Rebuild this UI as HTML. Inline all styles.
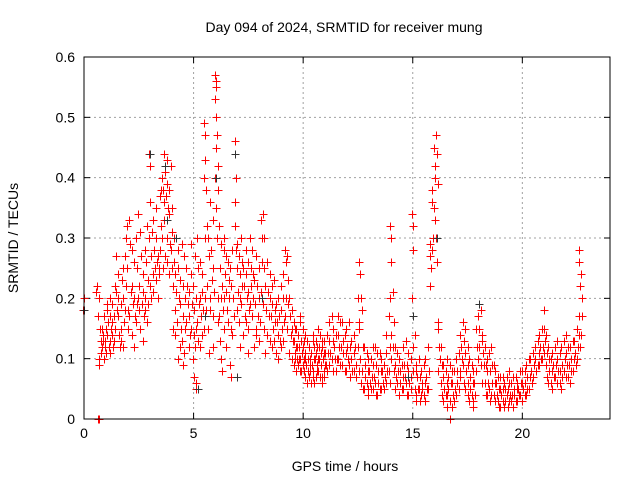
<!DOCTYPE html>
<html><head><meta charset="utf-8"><style>
body{margin:0;background:#fff}
svg{display:block;font-family:"Liberation Sans",sans-serif}
</style></head><body>
<svg id="chart" width="640" height="480" viewBox="0 0 640 480">
<rect width="640" height="480" fill="#fff"/>
<text x="344" y="32" font-size="14" text-anchor="middle">Day 094 of 2024, SRMTID for receiver mung</text>
<text transform="translate(18,238) rotate(-90)" font-size="14" text-anchor="middle">SRMTID / TECUs</text>
<text x="345" y="471" font-size="14" text-anchor="middle">GPS time / hours</text>
<g id="grid"></g>
<g id="ticks"></g>
<g id="marks"></g>
<rect x="84" y="57" width="526" height="362" fill="none" stroke="#000" stroke-width="1"/>
</svg>
<script>
const xTicks=[0,5,10,15,20];
const yTicks=[0,0.1,0.2,0.3,0.4,0.5,0.6];
const yTickLabels=["0","0.1","0.2","0.3","0.4","0.5","0.6"];
const groupHours=[0,0.6,0.7,0.8,0.9,1.0,1.1,1.2,1.3,1.4,1.5,1.6,1.7,1.8,1.9,2.0,2.1,2.2,2.3,2.4,2.5,2.6,2.7,2.8,2.9,3.0,3.1,3.2,3.3,3.4,3.5,3.6,3.7,3.8,3.9,4.0,4.1,4.2,4.3,4.4,4.5,4.6,4.7,4.8,4.9,5.0,5.1,5.2,5.3,5.4,5.5,5.6,5.7,5.8,5.9,6.0,6.1,6.2,6.3,6.4,6.5,6.6,6.7,6.8,6.9,7.0,7.1,7.2,7.3,7.4,7.5,7.6,7.7,7.8,7.9,8.0,8.1,8.2,8.3,8.4,8.5,8.6,8.7,8.8,8.9,9.0,9.1,9.2,9.3,9.4,9.5,9.6,9.7,9.8,9.9,10.0,10.1,10.2,10.3,10.4,10.5,10.6,10.7,10.8,10.9,11.0,11.2,11.4,11.6,11.8,12.0,12.2,12.4,12.6,12.8,13.0,13.2,13.4,13.6,13.8,14.0,14.2,14.4,14.6,14.8,15.0,15.2,15.4,15.6,15.8,15.9,16.0,16.1,16.2,16.4,16.6,16.8,17.0,17.2,17.4,17.6,17.8,18.0,18.2,18.4,18.6,18.8,19.0,19.2,19.4,19.6,19.8,20.0,20.2,20.4,20.6,20.8,21.0,21.2,21.4,21.6,21.8,22.0,22.2,22.4,22.6,22.7];
const groupValues=[
[.18,.2],[.21,.22,.17],[.1,.09,.15,.2],[.13,.15,.12,.11],[.14,.17,.1,.13],[.12,.15,.19,.13,.11],[.14,.16,.12,.18],[.13,.11,.15,.2,.17],[.16,.14,.12,.19],[.17,.22,.15,.13],
[.21,.18,.24,.27],[.2,.14,.12,.17],[.15,.13,.23,.19],[.25,.2,.16,.12],[.27,.3,.22,.18],[.32,.18,.15,.25],[.33,.29,.21,.17],[.28,.22,.19,.14],[.26,.2,.17,.12],[.3,.25,.19,.16],
[.34,.22,.18,.2],[.31,.27,.19,.15],[.24,.21,.17,.13],[.28,.2,.26,.18],[.32,.23,.19,.16],[.44,.42,.36,.3,.22],[.27,.31,.24,.2],[.33,.28,.25,.21],[.35,.3,.26,.23],[.27,.25,.24,.2],
[.37,.38,.32,.28],[.4,.38,.36,.3,.25],[.44,.41,.37,.33,.27],[.43,.39,.35,.3,.26],[.38,.34,.29,.24],[.42,.35,.31,.28,.25],[.22,.26,.18,.15,.3],[.24,.21,.16,.14],[.28,.25,.2,.1],[.23,.19,.15,.12],
[.29,.22,.17,.13,.09],[.27,.2,.15,.11],[.25,.22,.19,.16],[.21,.17,.14,.12],[.29,.24,.19,.15],[.22,.18,.14,.1,.07],[.27,.2,.15,.12,.06,.05],[.3,.25,.19,.16,.13],[.26,.2,.17,.12],[.24,.21,.18,.14],
[.49,.47,.43,.4,.3,.2,.15],[.38,.32,.22,.18],[.3,.27,.2,.15,.11],[.36,.28,.23,.18],[.33,.25,.21,.17,.12],[.57,.56,.55,.53,.5,.45,.4,.35],[.47,.42,.38,.3,.2,.16],[.32,.25,.2,.17,.13],[.29,.22,.18,.1,.08],[.3,.28,.24,.2,.15],
[.27,.21,.18,.12],[.26,.23,.2,.16],[.25,.22,.15,.09,.07],[.28,.2,.17,.14],[.46,.44,.4,.36,.32,.28],[.29,.25,.21,.18],[.27,.24,.2,.16,.12],[.3,.26,.22,.19],[.25,.22,.17,.14],[.28,.24,.2,.16],
[.26,.21,.18,.15,.11],[.3,.25,.22,.19],[.28,.24,.2,.17],[.23,.19,.15,.12],[.27,.22,.17,.14],[.25,.2,.16,.13],[.33,.3,.26,.21],[.34,.3,.25,.19,.15],[.22,.18,.14,.11],[.26,.21,.17,.14],
[.24,.2,.17,.13],[.22,.19,.15,.12],[.23,.18,.16,.13],[.19,.16,.14,.11],[.2,.17,.13,.1],[.22,.18,.15,.12],[.24,.2,.16,.13],[.28,.26,.2,.17],[.27,.23,.19,.15],[.2,.17,.14,.11],
[.18,.15,.13,.1],[.16,.13,.11,.09],[.15,.12,.1,.08],[.14,.12,.1,.09],[.17,.13,.11,.08],[.15,.12,.1,.09],[.14,.11,.09,.07],[.13,.1,.08,.06],[.12,.1,.08,.07],[.11,.09,.07,.06],
[.14,.12,.1,.08],[.13,.11,.09,.07],[.15,.12,.1,.08],[.14,.11,.09,.07],[.12,.1,.08,.06],[.13,.11,.09],[.16,.13,.11,.09],[.15,.12,.1,.08],[.17,.14,.12,.1],[.16,.13,.11,.09],
[.15,.12,.1,.08],[.13,.1,.08],[.12,.09,.07],[.26,.24,.2,.15,.1,.06],[.12,.09,.07,.05],[.1,.08,.06,.05],[.12,.09,.07,.05],[.11,.08,.06,.04],[.1,.08,.06,.05],[.14,.11,.08,.06],
[.32,.3,.26,.2,.14,.1],[.12,.09,.07,.05],[.1,.08,.06,.04],[.12,.09,.07,.05],[.11,.08,.06,.04],[.34,.32,.28,.2,.12,.08],[.09,.07,.05,.03],[.08,.06,.05,.04],[.1,.07,.05,.03],[.29,.27,.25,.22],
[.38,.36,.3,.28],[.45,.42,.4,.35,.33],[.47,.44,.39,.3,.26,.16],[.15,.12,.1,.08],[.09,.07,.05,.03],[.1,.07,.05,.04],[.08,.06,.04,.02],[.1,.08,.06,.04],[.14,.12,.1,.07],[.15,.11,.08,.05],
[.1,.07,.05,.03],[.08,.06,.04,.02],[.17,.15,.12,.1],[.14,.11,.09,.06],[.1,.08,.06,.04],[.12,.09,.06,.04],[.08,.06,.04,.03],[.07,.05,.04,.02],[.06,.05,.03,.02],[.08,.06,.04,.03],
[.07,.05,.04,.02],[.06,.05,.04,.03],[.08,.06,.05,.03],[.09,.07,.05,.04],[.1,.08,.06],[.12,.1,.08],[.14,.12,.1,.09],[.18,.15,.13,.11],[.12,.1,.08,.06],[.11,.09,.07,.05],
[.13,.1,.08,.06],[.12,.09,.07,.05],[.14,.11,.09,.07],[.12,.1,.08,.06],[.13,.11,.09],[.28,.26,.22,.17,.14,.12],[.24,.2,.17,.14]];
const extraHours=[9.65,9.85,10.05,10.25,10.45,10.65,10.85,10.95,11.1,11.3,11.5,11.7,11.9,12.1,12.3,12.5,12.7,12.9,13.1,13.3,13.5,13.7,13.9,14.1,14.3,14.5,14.7,14.9,15.1,15.3,15.5,15.7,16.3,16.5,16.7,16.9,17.1,17.3,17.5,17.7,17.9,18.1,18.3,18.5,18.7,18.9,19.1,19.3,19.5,19.7,19.9,20.1,20.3,20.5,20.7,20.9,21.1,21.3,21.5,21.7,21.9,22.1,22.3,22.5];
const extraValues=[
[.15,.12,.1],[.16,.13,.1,.08],[.13,.1,.08,.07],[.12,.09,.07],[.13,.1,.07,.06],[.12,.1,.08],[.13,.1,.07],[.11,.09,.07],
[.14,.11,.08],[.17,.13,.1],[.14,.1,.08],[.16,.12,.09],[.14,.11,.08],[.16,.12,.09,.07],[.14,.11,.08],[.2,.16,.12,.08],[.18,.12,.08,.05],[.11,.08,.06,.04],
[.1,.07,.05],[.12,.09,.06,.04],[.11,.08,.05],[.09,.07,.05],[.17,.12,.08,.06],[.21,.16,.12,.08],[.11,.08,.06],[.09,.07,.05],[.13,.09,.06,.04],[.1,.07,.05],
[.14,.08,.05,.04],[.1,.07,.05,.03],[.09,.06,.04],[.12,.08,.05],[.12,.09,.06,.04],[.08,.06,.04,.02],[.09,.06,.03],[.08,.05,.03],[.11,.08,.05],[.16,.13,.09,.06],
[.12,.09,.06,.04],[.09,.06,.04,.03],[.15,.12,.08],[.18,.13,.09,.06],[.12,.09,.06,.04],[.11,.08,.05,.03],[.09,.06,.04],[.07,.05,.03,.02],[.07,.05,.03],[.07,.05,.04,.02],
[.06,.04,.03],[.07,.05,.03],[.08,.06,.04],[.08,.06,.04],[.1,.07,.05],[.11,.09,.07],[.13,.11,.09],[.15,.12,.1],[.14,.11,.09,.07],[.1,.08,.06],[.12,.09,.07],[.11,.08,.06],
[.13,.1,.08],[.12,.09,.07],[.13,.1,.08],[.15,.12,.1]];
const zeroHours=[0.65,0.7,16.7];
const blackHours=[3.0,3.7,4.2,5.5,5.2,6.0,6.9,7.0,8.1,15.0,16.1,18.0,14.8,0.0,3.8];
const blackValues=[.44,.42,.3,.17,.05,.4,.44,.07,.2,.17,.3,.19,.07,.18,.33];

const X0=84,X1=610,Y0=419,Y1=57,XMAX=24,YMAX=0.6;
const sx=h=>X0+(X1-X0)*h/XMAX;
const sy=v=>Y0-(Y0-Y1)*v/YMAX;
const NS="http://www.w3.org/2000/svg";
const grid=document.getElementById('grid'),ticks=document.getElementById('ticks'),marks=document.getElementById('marks');
function mk(tag,attrs,parent){const e=document.createElementNS(NS,tag);for(const k in attrs)e.setAttribute(k,attrs[k]);parent.appendChild(e);return e;}
xTicks.forEach(t=>{
  const x=sx(t);
  if(t>0){const g=mk('line',{x1:x,y1:Y0,x2:x,y2:Y1,stroke:'#a0a0a0','stroke-dasharray':'2,3'},grid);
  
  }
  mk('line',{x1:x,y1:Y0,x2:x,y2:Y0-6,stroke:'#000'},ticks);
  mk('line',{x1:x,y1:Y1,x2:x,y2:Y1+6,stroke:'#000'},ticks);
  const l=mk('text',{x:x,y:Y0+19,'font-size':14,'text-anchor':'middle'},ticks);l.textContent=t;
  
  
});
yTicks.forEach((t,i)=>{
  const y=sy(t);
  if(t>0&&t<YMAX){const g=mk('line',{x1:X0,y1:y,x2:X1,y2:y,stroke:'#a0a0a0','stroke-dasharray':'2,3'},grid);
  
  }
  mk('line',{x1:X0,y1:y,x2:X0+6,y2:y,stroke:'#000'},ticks);
  mk('line',{x1:X1,y1:y,x2:X1-6,y2:y,stroke:'#000'},ticks);
  const l=mk('text',{x:X0-9,y:y+5,'font-size':14,'text-anchor':'end'},ticks);l.textContent=yTickLabels[i];
  
  
});
function plus(h,v,color,name){
  const x=Math.round(sx(h))+0.5,y=Math.round(sy(v))+0.5;
  const p=mk('path',{d:`M${x-4} ${y}H${x+4}M${x} ${y-4}V${y+4}`,stroke:color,'stroke-width':1,fill:'none'},marks);
  
  
}
groupHours.forEach((h,i)=>{groupValues[i].forEach((v,j)=>plus(h+(j%3-1)*0.03,v,'#ff0000','red-point'));});
extraHours.forEach((h,i)=>{extraValues[i].forEach((v,j)=>plus(h+(j%2)*0.04,v,'#ff0000','red-point'));});
blackHours.forEach((h,i)=>plus(h,blackValues[i],'#333333','black-point'));
zeroHours.forEach(h=>plus(h,0,'#ff0000','zero-point'));
</script>
</body></html>
